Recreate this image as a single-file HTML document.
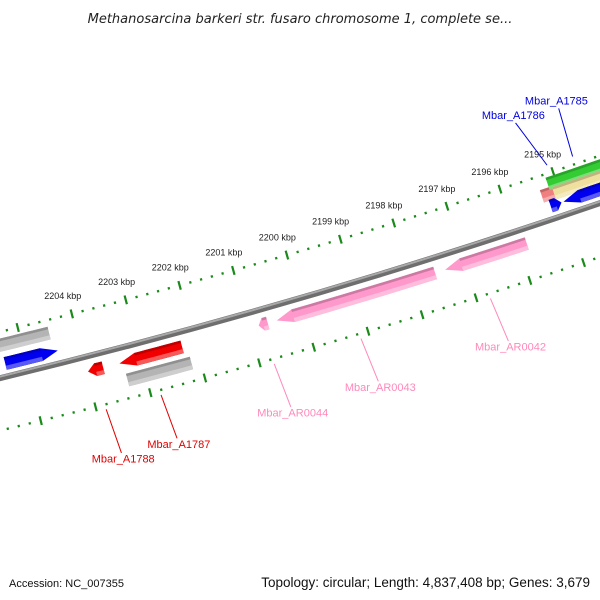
<!DOCTYPE html>
<html><head><meta charset="utf-8"><style>
html,body{margin:0;padding:0;background:#fff;}
svg{display:block;font-family:"Liberation Sans","DejaVu Sans",sans-serif;}
</style></head><body>
<svg id="map" width="600" height="600" viewBox="0 0 600 600" xmlns="http://www.w3.org/2000/svg">
<text x="300" y="23" text-anchor="middle" font-size="13" font-style="italic" fill="#222" style="font-family:'DejaVu Sans',sans-serif">Methanosarcina barkeri str. fusaro chromosome 1, complete se...</text>
<g id="ticks"></g>
<g id="backbone"></g>
<g id="features"></g>
<g id="labels"></g>
<text x="9" y="587" font-size="11" fill="#111">Accession: NC_007355</text>
<text x="590" y="587" text-anchor="end" font-size="13.5" fill="#111">Topology: circular; Length: 4,837,408 bp; Genes: 3,679</text>
</svg>
<script>
// Data
const tickKbp = [2192,2193,2194,2195,2196,2197,2198,2199,2200,2201,2202,2203,2204,2205,2206,2207,2208];
const tickLabels = ["2195 kbp","2196 kbp","2197 kbp","2198 kbp","2199 kbp","2200 kbp","2201 kbp","2202 kbp","2203 kbp","2204 kbp"];
const tickLabelKbp = [2195,2196,2197,2198,2199,2200,2201,2202,2203,2204];
const featNames = ["gray-left","blue-left","blue-edge","red-small","red-big","gray-bottom","pink-ar0044","pink-ar0043","pink-ar0042","salmon","green","yellow","blue-small","blue-big"];
const featStart = [2205427,2205371,2205706,2203975,2203398,2203332,2200833,2200498,2197373,2195327,2195160,2195104,2195234,2194992];
const featEnd   = [2204478,2204404,2205464,2203696,2202245,2202160,2200665,2197559,2195848,2195104,2193900,2193900,2195030,2193900];
const featTip   = ["none","low","low","high","high","none","high","high","high","none","none","none","low","high"];
const featTrack = [-32,-13,-13,15,15,33,15,15,15,-25,-35,-24,-13,-13];
const featColor = ["#b4b4b4","#0000f0","#0000f0","#f00000","#f00000","#b4b4b4","#ff99cc","#ff99cc","#ff99cc","#f08080","#33cc33","#f0e0a0","#0000f0","#0000f0"];
const labelNames = ["Mbar_A1788","Mbar_A1787","Mbar_AR0044","Mbar_AR0043","Mbar_AR0042","Mbar_A1786","Mbar_A1785"];
const labelBp0 = [2203829,2202827,2200753,2199156,2196762,2195063,2194578];
const labelBp1 = [2203760,2202751,2200680,2199080,2196690,2195359,2194536];
const labelR1off = [46,46,46,46,46,-50,-50];
const labelColor = ["#e00000","#e00000","#ff88bb","#ff88bb","#ff88bb","#0000e0","#0000e0"];

const NS="http://www.w3.org/2000/svg";
const cx=-1598, cy=-6216, R=6785, RT=6740, RB=6836;
function phi(bp){return (73.76+(bp-2200000)*0.000474)*Math.PI/180;}
function pos(bp,r){const a=phi(bp);return [cx+r*Math.cos(a), cy+r*Math.sin(a)];}
function mk(tag,attrs,parent){const e=document.createElementNS(NS,tag);for(const k in attrs)e.setAttribute(k,attrs[k]);parent.appendChild(e);return e;}
function arcPts(b0,b1,r,n){const p=[];for(let i=0;i<=n;i++){p.push(pos(b0+(b1-b0)*i/n,r));}return p;}

// ticks
const tg=document.getElementById('ticks');
[RT,RB].forEach((rr,ri)=>{
  for(let bp=tickKbp[0]*1000;bp<=tickKbp[tickKbp.length-1]*1000;bp+=200){
    const major = bp%1000===0;
    const h = major?4.5:1.2;
    const a=pos(bp,rr-h), b=pos(bp,rr+h);
    const l=mk('line',{x1:a[0],y1:a[1],x2:b[0],y2:b[1],stroke:'#1a8a1a','stroke-width':2.2},tg);
    
    
  }
});
tickLabelKbp.forEach((k,i)=>{
  const p=pos(k*1000+80,RT-19);
  const t=mk('text',{x:p[0],y:p[1],'text-anchor':'middle','dominant-baseline':'middle','font-size':9,fill:'#222'},tg);
  t.textContent=tickLabels[i];
  
  
});

// backbone
const bg=document.getElementById('backbone');
function arcPath(r){const a=pos(2210000,r),b=pos(2190000,r);return `M${a[0]},${a[1]} A${r},${r} 0 0 0 ${b[0]},${b[1]}`;}
let e1=mk('path',{d:arcPath(R),fill:'none',stroke:'#6e6e6e','stroke-width':6},bg);


let e2=mk('path',{d:arcPath(R-1.5),fill:'none',stroke:'#a8a8a8','stroke-width':2},bg);



// features
const fg=document.getElementById('features');
function shade(hex,f){const n=parseInt(hex.slice(1),16);let r=n>>16,g=(n>>8)&255,b=n&255;
  const m=c=>Math.max(0,Math.min(255,Math.round(f>0?c+(255-c)*f:c*(1+f))));
  return `rgb(${m(r)},${m(g)},${m(b)})`;}
featNames.forEach((nm,i)=>{
  const hi=Math.max(featStart[i],featEnd[i]), lo=Math.min(featStart[i],featEnd[i]);
  const rc=R+featTrack[i], hw=6.5;
  const head=Math.min(300,(hi-lo)*0.5);
  let pts=[];
  const tip=featTip[i];
  const a0 = tip==='high'? hi-head : hi;
  const a1 = tip==='low' ? lo+head : lo;
  pts = pts.concat(arcPts(a0,a1,rc-hw,8));
  if(tip==='low') pts.push(pos(lo,rc));
  pts = pts.concat(arcPts(a1,a0,rc+hw,8));
  if(tip==='high') pts.push(pos(hi,rc));
  const g=mk('g',{},fg);
  
  
  mk('polygon',{points:pts.map(p=>p.join(',')).join(' '),fill:featColor[i]},g);
  const s=[].concat(arcPts(a0,a1,rc+hw*0.35,8), arcPts(a1,a0,rc+hw,8));
  mk('polygon',{points:s.map(p=>p.join(',')).join(' '),fill:shade(featColor[i],0.35)},g);
  const d=[].concat(arcPts(a0,a1,rc-hw,8), arcPts(a1,a0,rc-hw*0.6,8));
  mk('polygon',{points:d.map(p=>p.join(',')).join(' '),fill:shade(featColor[i],-0.2)},g);
});

// labels
const lg=document.getElementById('labels');
labelNames.forEach((nm,i)=>{
  const r0=labelR1off[i]>0?RB+5:RT-8;
  const r1=r0+labelR1off[i];
  const a=pos(labelBp0[i],r0), b=pos(labelBp1[i],r1);
  const l=mk('line',{x1:a[0],y1:a[1],x2:b[0],y2:b[1],stroke:labelColor[i],'stroke-width':1},lg);
  
  
  const tp=pos(labelBp1[i], r1+(labelR1off[i]>0?7:-7));
  const t=mk('text',{x:tp[0],y:tp[1],'text-anchor':'middle','dominant-baseline':'middle','font-size':11,fill:labelColor[i]},lg);
  t.textContent=nm;
  
  
});
</script>
</body></html>
